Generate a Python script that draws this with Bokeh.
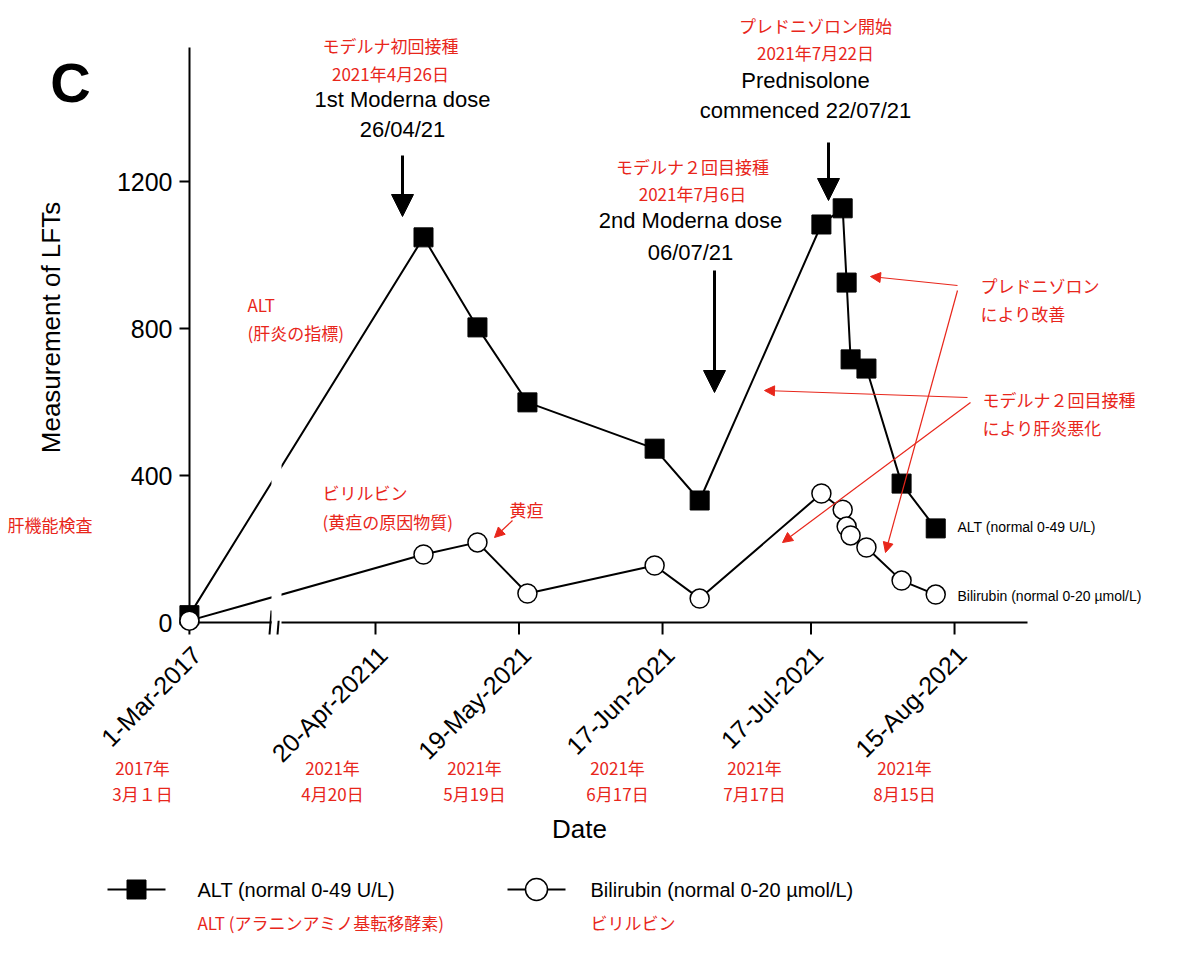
import math
from bokeh.plotting import figure
from bokeh.models import Arrow, NormalHead, Range1d
from bokeh.core.properties import value
from bokeh.embed import file_html
from bokeh.resources import INLINE

# days from 20-Apr-2021 (first value = 1-Mar-2017 placed left of the axis break)
days = [-37.6, 9.7, 20.6, 30.7, 56.4, 65.5, 90.1, 94.4, 95.2, 96.0, 99.2, 106.3, 113.2]
alt = [20, 1048, 803, 599, 473, 332, 1083, 1127, 925, 716, 691, 378, 256]
bili = [5, 185, 218, 79, 155, 65, 351, 307, 261, 237, 204, 114, 76]
tick_days = [-37.6, 0, 29, 58, 88, 117]
tick_labels = ["1-Mar-2017", "20-Apr-20211", "19-May-2021", "17-Jun-2021", "17-Jul-2021", "15-Aug-2021"]
tick_jp_year = ["2017年", "2021年", "2021年", "2021年", "2021年", "2021年"]
tick_jp_day = ["3月１日", "4月20日", "5月19日", "6月17日", "7月17日", "8月15日"]
yticks = [0, 400, 800, 1200]

# page pixel -> data helpers (used only for annotation/axis placement)
def dx(px): return (px - 383) / 4.949
def dy(py): return (630 - py) / 0.3675

W, H = 1184, 942
p = figure(width=W, height=H, min_border=0, x_range=Range1d(dx(8), dx(8 + W)),
           y_range=Range1d(dy(8 + H), dy(8)), output_backend="svg", toolbar_location=None)
p.axis.visible = False
p.grid.visible = False
p.outline_line_color = None
FONT = "Liberation Sans"
JP = "Noto Sans CJK JP"
RED = "#e8261b"

def txt(text, px, py, size, color="black", font=FONT, align="center", bold=False, angle=0, baseline="middle"):
    p.text(x=[dx(px)], y=[dy(py)], text=[text], text_font_size=f"{size}px", text_color=color,
           text_font=value(font), text_align=align, text_baseline=baseline, angle=angle,
           text_font_style="bold" if bold else "normal")

# axes
X0 = dx(197)
p.segment(x0=[X0], y0=[0], x1=[X0], y1=[dy(55)], line_color="black", line_width=2)
p.segment(x0=[X0] * len(yticks), y0=yticks, x1=[dx(187)] * len(yticks), y1=yticks, line_color="black", line_width=2)
for t in yticks:
    p.text(x=[dx(180)], y=[t], text=[str(t)], text_font_size="25px", text_font=value(FONT),
           text_align="right", text_baseline="middle")
txt("Measurement of LFTs", 58, 335, 26, angle=math.pi / 2)
p.segment(x0=[X0, dx(289)], y0=[0, 0], x1=[dx(279), dx(1035)], y1=[0, 0], line_color="black", line_width=2)
p.segment(x0=[dx(277), dx(285)], y0=[dy(642), dy(642)], x1=[dx(279), dx(287)], y1=[dy(618), dy(618)],
          line_color="black", line_width=2)
p.segment(x0=tick_days, y0=[0] * 6, x1=tick_days, y1=[dy(642)] * 6, line_color="black", line_width=2)
for t, l in zip(tick_days, tick_labels):
    p.text(x=[t + 1.5], y=[dy(658)], text=[l], text_font_size="25px", text_font=value(FONT),
           text_align="right", text_baseline="middle", angle=math.pi / 4)
txt("Date", 587, 836, 26)

# data
p.line(days, alt, line_color="black", line_width=2)
p.line(days, bili, line_color="black", line_width=2)
p.quad(left=[dx(279)], right=[dx(289)], bottom=[5], top=[dy(300)], fill_color="white", line_color=None)
p.scatter(days, alt, marker="square", size=19, fill_color="black", line_color="black")
p.scatter(days, bili, marker="circle", size=19, fill_color="white", line_color="black", line_width=1.5)

txt("C", 78, 90, 56, bold=True)
txt("1st Moderna dose", 410, 107, 22); txt("26/04/21", 410, 137, 22)
txt("2nd Moderna dose", 698, 228, 22); txt("06/07/21", 698, 260, 22)
txt("Prednisolone", 813, 88, 22); txt("commenced 22/07/21", 813, 118, 22)
txt("モデルナ初回接種", 398, 53, 17, RED, JP); txt("2021年4月26日", 398, 81, 17, RED, JP)
txt("モデルナ２回目接種", 700, 174, 17, RED, JP); txt("2021年7月6日", 700, 201, 17, RED, JP)
txt("プレドニゾロン開始", 823, 33, 17, RED, JP); txt("2021年7月22日", 823, 60, 17, RED, JP)
txt("ALT", 255, 312, 17, RED, JP, "left"); txt("(肝炎の指標)", 255, 340, 17, RED, JP, "left")
txt("ビリルビン", 330, 500, 17, RED, JP, "left"); txt("(黄疸の原因物質)", 330, 529, 17, RED, JP, "left")
txt("黄疸", 517, 517, 17, RED, JP, "left")
txt("プレドニゾロン", 988, 293, 17, RED, JP, "left"); txt("により改善", 988, 321, 17, RED, JP, "left")
txt("モデルナ２回目接種", 990, 407, 17, RED, JP, "left"); txt("により肝炎悪化", 990, 435, 17, RED, JP, "left")
txt("肝機能検査", 15, 532, 17, RED, JP, "left")
txt("ALT (normal 0-49 U/L)", 965, 534, 14, align="left")
txt("Bilirubin (normal 0-20 µmol/L)", 965, 603, 14, align="left")
for t, yr, d in zip([150, 340, 482, 625, 762, 912], tick_jp_year, tick_jp_day):
    txt(yr, t, 775, 17, RED, JP); txt(d, t, 801, 17, RED, JP)

# legend
p.segment(x0=[dx(115), dx(515)], y0=[dy(897)] * 2, x1=[dx(173), dx(573)], y1=[dy(897)] * 2,
          line_color="black", line_width=2)
p.scatter([dx(144)], [dy(897)], marker="square", size=19, fill_color="black", line_color="black")
p.scatter([dx(544)], [dy(897)], marker="circle", size=22, fill_color="white", line_color="black", line_width=1.5)
txt("ALT   (normal 0-49 U/L)", 205, 897, 20, align="left")
txt("Bilirubin   (normal 0-20 µmol/L)", 598, 897, 20, align="left")
txt("ALT (アラニンアミノ基転移酵素)", 205, 930, 17, RED, JP, "left")
txt("ビリルビン", 598, 930, 17, RED, JP, "left")

def arrow(x0, y0, x1, y1, color, w, hs):
    p.add_layout(Arrow(x_start=dx(x0), y_start=dy(y0), x_end=dx(x1), y_end=dy(y1), line_color=color,
                       line_width=w, end=NormalHead(size=hs, fill_color=color, line_color=color)))

arrow(410, 163, 410, 224, "black", 3, 22)
arrow(722, 278, 722, 400, "black", 3, 22)
arrow(836, 150, 836, 208, "black", 3, 22)
arrow(965, 293, 878, 284, RED, 1.2, 10)
arrow(965, 298, 893, 560, RED, 1.2, 10)
arrow(975, 405, 772, 398, RED, 1.2, 10)
arrow(978, 410, 790, 550, RED, 1.2, 10)
arrow(520, 528, 502, 545, RED, 1.2, 10)

open("out.html", "w").write(file_html(p, INLINE))
